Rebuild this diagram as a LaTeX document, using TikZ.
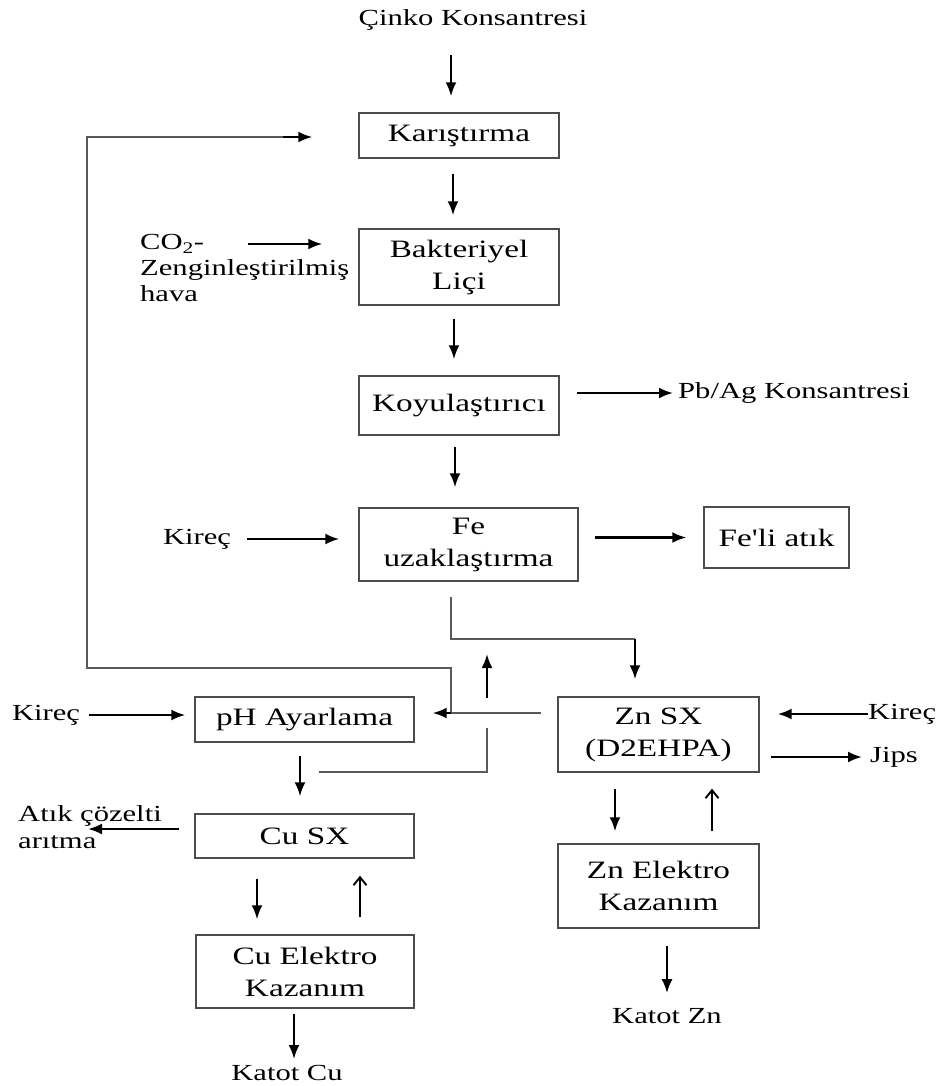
\documentclass[tikz,border=0pt]{standalone}
\usepackage{fontspec}
\setmainfont[FakeStretch=1.33]{Liberation Serif}
\newfontfamily\plainfont[FakeStretch=1.33]{Liberation Serif}
\usetikzlibrary{arrows.meta}
\newcommand\bxfont{\fontsize{25}{32}\selectfont}
\newcommand\lbfont{\fontsize{23}{26}\selectfont}
\tikzset{
  box/.style={draw=black!70, line width=1.4pt, inner sep=0pt, align=center, font=\bxfont},
  lbl/.style={inner sep=0pt, align=left, font=\lbfont},
  arr/.style={line width=2.3pt, -{Latex[length=14pt,width=11pt]}},
  uarr/.style={line width=2.1pt, -{Straight Barb[length=8pt,width=13pt,line width=1.9pt]}},
  ln/.style={draw=black!65, line width=1.4pt},
}
\begin{document}
\begin{tikzpicture}[x=1pt,y=-1pt]
\path[use as bounding box] (0,0) rectangle (939,1086);
% nodes
\node[lbl] (cinko) at (473,20) {Çinko Konsantresi};
\node[box, minimum width=200, minimum height=45] (kar) at (459,135.5) {Karıştırma};
\node[box, minimum width=200, minimum height=76] (bak) at (459,267) {Bakteriyel\\Liçi};
\node[box, minimum width=200, minimum height=59] (koy) at (459,405.5) {Koyulaştırıcı};
\node[box, minimum width=219, minimum height=73] (fe) at (468.5,544.5) {Fe\\uzaklaştırma};
\node[box, minimum width=145, minimum height=61] (feli) at (776.5,537.5) {Fe{\plainfont'}li atık};
\node[lbl, anchor=west] (pbag) at (678,393) {Pb/Ag Konsantresi};
\node[lbl, anchor=west] (co2) at (140,268) {CO\textsubscript{2}-\\Zenginleştirilmiş\\hava};
\node[lbl] (kirec1) at (197,539) {Kireç};
\node[lbl] (kirec2) at (46,715) {Kireç};
\node[lbl, anchor=west] (kirec3) at (868,714) {Kireç};
\node[lbl, anchor=west] (jips) at (870,757) {Jips};
\node[box, minimum width=201, minimum height=75] (zn) at (658.5,734.5) {Zn SX\\(D2EHPA)};
\node[box, minimum width=219, minimum height=45] (ph) at (304.5,719.5) {pH Ayarlama};
\node[box, minimum width=219, minimum height=44] (cu) at (304.5,836) {Cu SX};
\node[lbl, anchor=west, font=\fontsize{23}{27}\selectfont] (atik) at (18,827) {Atık çözelti\\arıtma};
\node[box, minimum width=218, minimum height=73] (cue) at (305,971.5) {Cu Elektro\\Kazanım};
\node[box, minimum width=201, minimum height=84] (zne) at (658.5,886) {Zn Elektro\\Kazanım};
\node[lbl] (katcu) at (287,1073) {Katot Cu};
\node[lbl] (katzn) at (667,1016) {Katot Zn};
% coordinates
\coordinate (j1) at (451,713);
\coordinate (co2a) at (248,244);
\coordinate (f1) at (451,597);
\coordinate (f2) at (635,639);
\coordinate (u1) at (487,698);
\coordinate (u2) at (487,654);
\coordinate (r1) at (487,728);
\coordinate (r2) at (319,772);
\coordinate (l1) at (87,668);
\coordinate (l2) at (87,137);
\coordinate (l3) at (283,137);
% main column
\draw[arr, shorten <=24pt, shorten >=16pt] (cinko.south -| 451,0) -- (kar.north -| 451,0);
\draw[arr, shorten <=15pt, shorten >=13pt] (kar.south -| 453,0) -- (bak.north -| 453,0);
\draw[arr, shorten <=13pt, shorten >=16pt] (bak.south -| 454,0) -- (koy.north -| 454,0);
\draw[arr, shorten <=11pt, shorten >=20pt] (koy.south -| 455,0) -- (fe.north -| 455,0);
\draw[arr, shorten <=17pt, shorten >=5pt] (pbag.west -| koy.east) -- (pbag.west);
\draw[arr, shorten <=16pt, shorten >=17pt] (feli.west -| fe.east) -- (feli.west);
\draw[arr, shorten <=16pt, shorten >=19pt] (kirec1.east) -- (kirec1.east -| fe.west);
\draw[arr, shorten >=36pt] (co2a) -- (co2a -| bak.west);
% recycle loop
\draw[ln] (j1) |- (l1) -- (l2) -- (l3);
\draw[arr, shorten >=46pt] (l3) -- (kar.west |- l3);
% Fe -> Zn SX
\draw[ln] (f1) |- (f2);
\draw[arr, shorten >=17pt] (f2) -- (zn.north -| f2);
% Zn SX -> pH
\draw[ln, shorten <=16pt] (j1 -| zn.west) -- (j1);
\draw[arr, shorten >=18pt] (j1) -- (j1 -| ph.east);
\draw[arr] (u1) -- (u2);
\draw[ln] (r1) |- (r2);
% pH column
\draw[arr, shorten <=9pt, shorten >=9pt] (kirec2.east) -- (kirec2.east -| ph.west);
\draw[arr, shorten <=13pt, shorten >=17pt] (ph.south -| 300,0) -- (cu.north -| 300,0);
\draw[arr, shorten <=15pt, shorten >=70pt] ([yshift=7pt]cu.west) -- ([yshift=7pt]cu.west -| atik.west);
\draw[arr, shorten <=20pt, shorten >=15pt] (cu.south -| 257,0) -- (cue.north -| 257,0);
\draw[uarr, shorten <=17pt, shorten >=17pt] (cue.north -| 360,0) -- (cu.south -| 360,0);
\draw[arr, shorten <=5pt, shorten >=6pt] (cue.south -| 294,0) -- (katcu.north -| 294,0);
% Zn column
\draw[arr, shorten >=18pt] (kirec3.west) -- (kirec3.west -| zn.east);
\draw[arr, shorten <=11pt, shorten >=8pt] (jips.west -| zn.east) -- (jips.west);
\draw[arr, shorten <=16pt, shorten >=12pt] (zn.south -| 615,0) -- (zne.north -| 615,0);
\draw[uarr, shorten <=12pt, shorten >=16pt] (zne.north -| 712,0) -- (zn.south -| 712,0);
\draw[arr, shorten <=17pt, shorten >=15pt] (zne.south -| 667,0) -- (katzn.north -| 667,0);
\end{tikzpicture}
\end{document}
